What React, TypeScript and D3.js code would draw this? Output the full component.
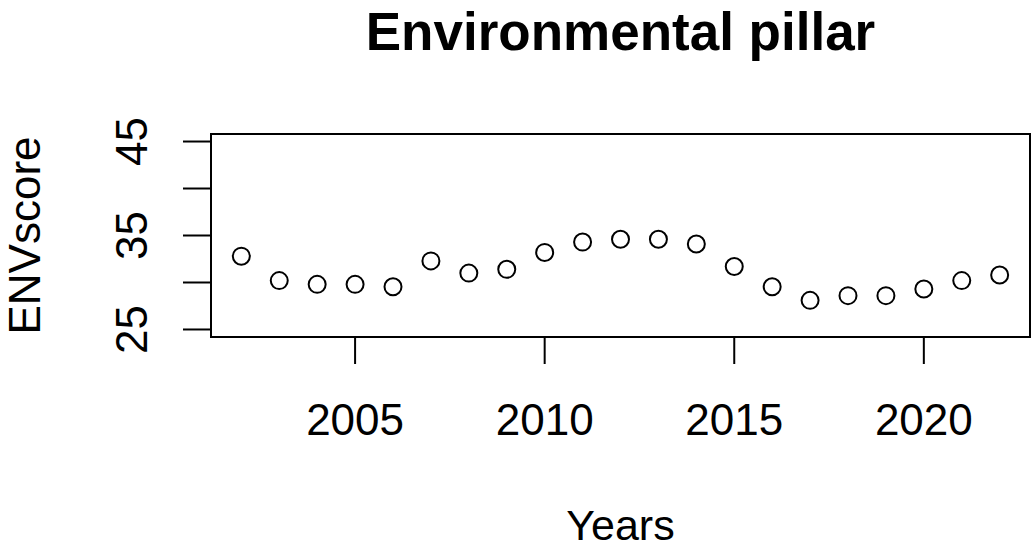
import { useEffect, useRef } from "react";
import * as d3 from "d3";

const years = [
  2002, 2003, 2004, 2005, 2006, 2007, 2008, 2009, 2010, 2011, 2012, 2013,
  2014, 2015, 2016, 2017, 2018, 2019, 2020, 2021, 2022,
];
const envScore = [
  32.8, 30.2, 29.8, 29.8, 29.55, 32.3, 31.0, 31.4, 33.2, 34.3, 34.6, 34.6,
  34.1, 31.7, 29.55, 28.1, 28.6, 28.6, 29.3, 30.2, 30.8,
];
const xTicks = [2005, 2010, 2015, 2020];
const yTicks = [25, 30, 35, 40, 45];
const yLabels = [25, 35, 45];

const W = 1032;
const H = 551;
const font = "'Liberation Sans', Arial, sans-serif";

const App = () => {
  const svgRef = useRef<SVGSVGElement | null>(null);

  useEffect(() => {
    if (!svgRef.current) return;
    const svg = d3.select(svgRef.current);
    svg.selectAll("*").remove();

    const box = { left: 211, right: 1030, top: 134, bottom: 337 };

    // R style 4% padding on both axes
    const x = d3
      .scaleLinear()
      .domain([2001.2, 2022.8])
      .range([box.left, box.right]);
    const y = d3
      .scaleLinear()
      .domain([24.2, 45.8])
      .range([box.bottom, box.top]);

    svg
      .append("rect")
      .attr("x", box.left)
      .attr("y", box.top)
      .attr("width", box.right - box.left)
      .attr("height", box.bottom - box.top)
      .attr("fill", "none")
      .attr("stroke", "#000")
      .attr("stroke-width", 2);

    // y axis
    const gy = svg.append("g");
    gy.append("line")
      .attr("x1", box.left)
      .attr("x2", box.left)
      .attr("y1", y(25))
      .attr("y2", y(45))
      .attr("stroke", "#000")
      .attr("stroke-width", 2);
    gy.selectAll("line.tick")
      .data(yTicks)
      .join("line")
      .attr("class", "tick")
      .attr("x1", box.left - 28)
      .attr("x2", box.left)
      .attr("y1", (d) => y(d))
      .attr("y2", (d) => y(d))
      .attr("stroke", "#000")
      .attr("stroke-width", 2);
    gy.selectAll("text")
      .data(yLabels)
      .join("text")
      .attr("transform", (d) => `translate(147,${y(d)}) rotate(-90)`)
      .attr("text-anchor", "middle")
      .attr("font-family", font)
      .attr("font-size", 44)
      .attr("fill", "#000")
      .text((d) => d);

    // x axis
    const gx = svg.append("g");
    gx.append("line")
      .attr("x1", x(2005))
      .attr("x2", x(2020))
      .attr("y1", box.bottom)
      .attr("y2", box.bottom)
      .attr("stroke", "#000")
      .attr("stroke-width", 2);
    gx.selectAll("line.tick")
      .data(xTicks)
      .join("line")
      .attr("class", "tick")
      .attr("x1", (d) => x(d))
      .attr("x2", (d) => x(d))
      .attr("y1", box.bottom)
      .attr("y2", box.bottom + 27)
      .attr("stroke", "#000")
      .attr("stroke-width", 2);
    gx.selectAll("text")
      .data(xTicks)
      .join("text")
      .attr("x", (d) => x(d))
      .attr("y", 435)
      .attr("text-anchor", "middle")
      .attr("font-family", font)
      .attr("font-size", 44)
      .attr("fill", "#000")
      .text((d) => d);

    // points
    svg
      .append("g")
      .selectAll("circle")
      .data(years.map((yr, i) => [yr, envScore[i]] as [number, number]))
      .join("circle")
      .attr("cx", (d) => x(d[0]))
      .attr("cy", (d) => y(d[1]))
      .attr("r", 8.5)
      .attr("fill", "none")
      .attr("stroke", "#000")
      .attr("stroke-width", 2);

    // titles
    svg
      .append("text")
      .attr("x", (box.left + box.right) / 2)
      .attr("y", 50)
      .attr("text-anchor", "middle")
      .attr("font-family", font)
      .attr("font-weight", "bold")
      .attr("font-size", 53)
      .attr("fill", "#000")
      .text("Environmental pillar");

    svg
      .append("text")
      .attr("x", (box.left + box.right) / 2)
      .attr("y", 540)
      .attr("text-anchor", "middle")
      .attr("font-family", font)
      .attr("font-size", 43)
      .attr("fill", "#000")
      .text("Years");

    svg
      .append("text")
      .attr(
        "transform",
        `translate(40,${(box.top + box.bottom) / 2}) rotate(-90)`
      )
      .attr("text-anchor", "middle")
      .attr("font-family", font)
      .attr("font-size", 44)
      .attr("fill", "#000")
      .text("ENVscore");
  }, []);

  return (
    <div style={{ position: "absolute", left: 0, top: 0, background: "#fff" }}>
      <svg ref={svgRef} width={W} height={H} style={{ display: "block" }} />
    </div>
  );
};

export default App;
